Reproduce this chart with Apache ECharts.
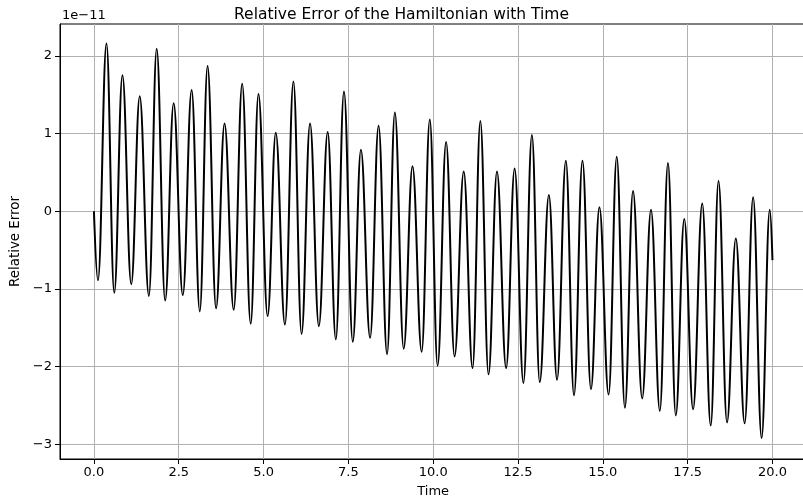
<!DOCTYPE html>
<html>
<head>
<meta charset="utf-8">
<script src="https://cdn.jsdelivr.net/npm/echarts@6/dist/echarts.min.js"></script>
<style>html,body{margin:0;padding:0;background:#fff}#c{width:803px;height:504px}</style>
</head>
<body>
<div id="c"></div>
<script>
// Time values of the extrema (and end points)
const times = [0.00,0.12,0.37,0.60,0.84,1.10,1.35,1.62,1.85,2.10,2.35,2.62,2.88,3.12,3.35,3.60,3.85,4.12,4.37,4.62,4.85,
  5.12,5.36,5.63,5.88,6.12,6.37,6.63,6.89,7.13,7.37,7.63,7.87,8.14,8.39,8.64,8.87,9.13,9.39,9.66,9.90,
  10.13,10.38,10.63,10.90,11.16,11.39,11.63,11.88,12.15,12.40,12.66,12.91,13.14,13.41,13.65,13.91,14.15,14.40,14.65,14.90,
  15.17,15.41,15.65,15.89,16.16,16.42,16.68,16.92,17.15,17.40,17.66,17.93,18.18,18.41,18.66,18.92,19.18,19.43,19.68,19.92,20.00];
// Relative error in units of 1e-11
const relErr = [0.00,-0.89,2.16,-1.05,1.75,-0.94,1.48,-1.09,2.09,-1.15,1.39,-1.08,1.56,-1.29,1.87,-1.25,1.13,-1.27,1.64,-1.45,1.51,
  -1.35,1.01,-1.46,1.67,-1.58,1.13,-1.48,1.02,-1.65,1.54,-1.68,0.79,-1.63,1.10,-1.84,1.27,-1.77,0.58,-1.81,1.18,
  -1.99,0.89,-1.87,0.51,-2.02,1.16,-2.10,0.51,-2.02,0.55,-2.21,0.98,-2.20,0.21,-2.17,0.65,-2.37,0.65,-2.29,0.05,
  -2.36,0.70,-2.53,0.26,-2.41,0.02,-2.57,0.62,-2.63,-0.10,-2.55,0.10,-2.76,0.39,-2.72,-0.35,-2.73,0.18,-2.92,0.02,-0.63];
const xTicks = [0, 2.5, 5, 7.5, 10, 12.5, 15, 17.5, 20];
const yTicks = [-3, -2, -1, 0, 1, 2];

const chart = echarts.init(document.getElementById('c'), null, {renderer: 'canvas'});
const font = 'DejaVu Sans';
chart.setOption({
  animation: false,
  backgroundColor: '#fff',
  title: {
    text: 'Relative Error of the Hamiltonian with Time',
    left: 'center', top: 2,
    textStyle: {fontFamily: font, fontSize: 15.5, fontWeight: 'normal', color: '#000'}
  },
  graphic: [{type: 'text', left: 62, top: 9, style: {text: '1e\u221211', font: '13px "DejaVu Sans"', fill: '#000'}}],
  grid: {left: 60, top: 24, width: 746.4, bottom: 45, outerBoundsMode: 'none', containLabel: false,
    show: true, borderColor: '#000', borderWidth: 1, backgroundColor: 'transparent'},
  xAxis: {
    type: 'value', min: -1, max: 21,
    name: 'Time', nameLocation: 'middle', nameGap: 26,
    nameTextStyle: {fontFamily: font, fontSize: 13, color: '#000'},
    axisLine: {show: true, onZero: false, lineStyle: {color: '#000', width: 1}},
    axisTick: {show: true, inside: false, length: 5, customValues: xTicks, lineStyle: {color: '#000'}},
    axisLabel: {customValues: xTicks, fontFamily: font, fontSize: 13, color: '#000', margin: 7,
      formatter: v => v.toFixed(1)},
    splitLine: {show: true, lineStyle: {color: '#b0b0b0', width: 1}}
  },
  yAxis: {
    type: 'value', min: -3.19, max: 2.41,
    name: 'Relative Error', nameLocation: 'middle', nameGap: 35,
    nameTextStyle: {fontFamily: font, fontSize: 13.4, color: '#000'},
    axisLine: {show: true, onZero: false, lineStyle: {color: '#000', width: 1}},
    axisTick: {show: true, inside: false, length: 5, customValues: yTicks, lineStyle: {color: '#000'}},
    axisLabel: {customValues: yTicks, fontFamily: font, fontSize: 13, color: '#000', margin: 8,
      formatter: v => (v < 0 ? '\u2212' + Math.abs(v) : String(v))},
    splitLine: {show: true, lineStyle: {color: '#b0b0b0', width: 1}}
  },
  series: [{
    type: 'line',
    data: times.map((t, i) => [t, relErr[i]]),
    showSymbol: false,
    smooth: 0.4,
    smoothMonotone: 'x',
    lineStyle: {color: '#000', width: 2},
    itemStyle: {color: '#000'}
  }]
});
</script>
</body>
</html>
